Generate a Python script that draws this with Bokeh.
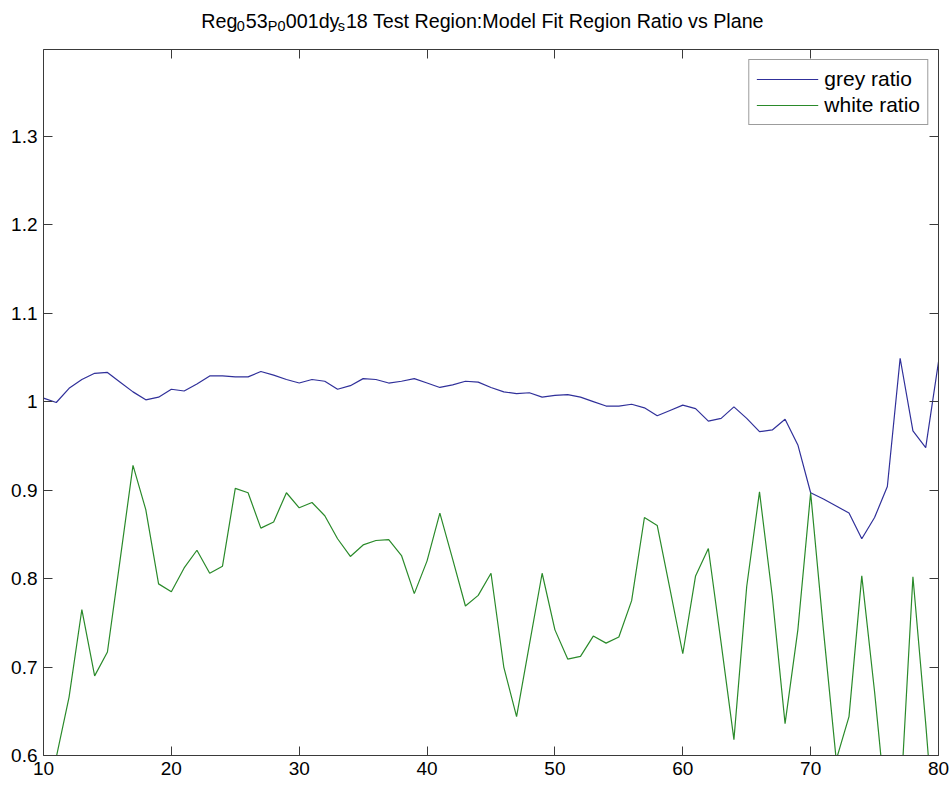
from bokeh.plotting import figure
from bokeh.layouts import column
from bokeh.models import (FixedTicker, CustomJSTickFormatter, LinearAxis,
                          Range1d, Legend, LegendItem)
from bokeh.core.properties import value
from bokeh.embed import file_html
from bokeh.resources import INLINE

# ---------------- data ----------------
plane = list(range(10, 81))
grey_ratio = [1.004, 0.999, 1.015, 1.025, 1.032, 1.033, 1.022, 1.011, 1.002, 1.005,
              1.014, 1.012, 1.020, 1.029, 1.029, 1.028, 1.028, 1.034, 1.030, 1.025,
              1.021, 1.025, 1.023, 1.014, 1.018, 1.026, 1.025, 1.021, 1.023, 1.026,
              1.021, 1.016, 1.019, 1.023, 1.022, 1.016, 1.011, 1.009, 1.010, 1.005,
              1.007, 1.008, 1.005, 1.000, 0.995, 0.995, 0.997, 0.993, 0.984, 0.990,
              0.996, 0.992, 0.978, 0.981, 0.994, 0.981, 0.966, 0.968, 0.980, 0.951,
              0.897, 0.890, 0.882, 0.874, 0.845, 0.869, 0.904, 1.049, 0.967, 0.948,
              1.045]
white_ratio = [0.550, 0.598, 0.666, 0.765, 0.690, 0.717, 0.822, 0.928, 0.878, 0.794,
               0.785, 0.812, 0.832, 0.806, 0.814, 0.902, 0.897, 0.857, 0.864, 0.897,
               0.880, 0.886, 0.871, 0.845, 0.825, 0.838, 0.843, 0.844, 0.826, 0.783,
               0.820, 0.874, 0.822, 0.769, 0.781, 0.806, 0.700, 0.644, 0.725, 0.806,
               0.742, 0.709, 0.712, 0.735, 0.727, 0.734, 0.775, 0.869, 0.860, 0.788,
               0.715, 0.803, 0.834, 0.727, 0.618, 0.791, 0.898, 0.780, 0.636, 0.742,
               0.897, 0.742, 0.595, 0.644, 0.803, 0.672, 0.525, 0.540, 0.802, 0.636,
               0.455]
x_ticks = [10, 20, 30, 40, 50, 60, 70, 80]
y_ticks = [0.6, 0.7, 0.8, 0.9, 1.0, 1.1, 1.2, 1.3]
series_labels = ["grey ratio", "white ratio"]
# title pieces: (text, is_subscript)
title_pieces = [("Reg", False), ("0", True), ("53", False), ("P0", True),
                ("001dy", False), ("s", True),
                ("18 Test Region:Model Fit Region Ratio vs Plane", False)]

# ---------------- styling ----------------
FONT = "Liberation Sans"
AX_COL = "#3a3a3a"
GREY_COL = "#30309a"
WHITE_COL = "#2a8a2a"
X0, X1, Y0, Y1 = 10, 80, 0.6, 1.398
PAGE_W, PAGE_H = 952, 787
TITLE_H = 45
FRAME_L, FRAME_R, FRAME_T, FRAME_B = 43, 938, 49, 755

# ---------------- title strip (text with subscripts) ----------------
tf = figure(width=PAGE_W, height=TITLE_H, output_backend="svg",
            toolbar_location=None, x_range=Range1d(0, PAGE_W),
            y_range=Range1d(TITLE_H, 0), min_border=0, title_location=None,
            x_axis_location=None, y_axis_location=None)
tf.grid.visible = False
tf.outline_line_color = None

W = {'R': 722, 'e': 556, 'g': 556, 'P': 667, 'd': 556, 'y': 500, 's': 500,
     ' ': 278, 'T': 611, 't': 278, 'i': 222, 'o': 556, 'n': 556, ':': 278,
     'M': 833, 'l': 222, 'F': 611, 'a': 556, 'v': 500, 'r': 333}
MAIN_SZ, SUB_SZ = 19.7, 14.5
GAP = 1.5


def text_w(s, size):
    return sum(W.get(c, 556) for c in s) / 1000.0 * size


total = sum(text_w(t, SUB_SZ if sub else MAIN_SZ) + (2 * GAP if sub else 0)
            for t, sub in title_pieces)
cursor = 455 - total / 2.0
main_x, main_t, sub_x, sub_t = [], [], [], []
for t, sub in title_pieces:
    if sub:
        cursor += GAP
        sub_x.append(cursor); sub_t.append(t)
        cursor += text_w(t, SUB_SZ) + GAP
    else:
        main_x.append(cursor); main_t.append(t)
        cursor += text_w(t, MAIN_SZ)
tf.text(x=main_x, y=[20] * len(main_x), text=main_t, text_font=value(FONT),
        text_font_size=value(f"{MAIN_SZ}px"), text_color="black",
        text_align="left", text_baseline="alphabetic")
tf.text(x=sub_x, y=[25] * len(sub_x), text=sub_t, text_font=value(FONT),
        text_font_size=value(f"{SUB_SZ}px"), text_color="black",
        text_align="left", text_baseline="alphabetic")

# ---------------- main plot ----------------
main_h = PAGE_H - TITLE_H
p = figure(width=PAGE_W, height=main_h, output_backend="svg", toolbar_location=None,
           x_range=Range1d(X0, X1), y_range=Range1d(Y0, Y1),
           min_border_left=FRAME_L, min_border_right=PAGE_W - FRAME_R,
           min_border_top=FRAME_T - TITLE_H, min_border_bottom=PAGE_H - FRAME_B,
           title_location=None,
           background_fill_color="white", border_fill_color="white")
p.outline_line_color = None
p.xgrid.visible = False
p.ygrid.visible = False


def style_axis(ax, ticks, labels=True):
    ax.ticker = FixedTicker(ticks=ticks)
    ax.major_tick_in = 9
    ax.major_tick_out = 0
    ax.minor_tick_in = 0
    ax.minor_tick_out = 0
    ax.axis_line_color = AX_COL
    ax.axis_line_width = 1
    ax.major_tick_line_color = AX_COL
    ax.major_tick_line_width = 1
    ax.major_label_text_font = FONT
    ax.major_label_text_font_size = "19px"
    ax.major_label_text_color = "black"
    ax.major_label_standoff = 6
    if not labels:
        ax.formatter = CustomJSTickFormatter(code="return '';")
        ax.major_label_standoff = 0


style_axis(p.xaxis[0], x_ticks)
style_axis(p.yaxis[0], y_ticks)
p.yaxis[0].formatter = CustomJSTickFormatter(
    code="return Number(tick.toFixed(2)).toString();")

top_ax = LinearAxis()
style_axis(top_ax, x_ticks, labels=False)
right_ax = LinearAxis()
style_axis(right_ax, y_ticks, labels=False)
p.add_layout(top_ax, "above")
p.add_layout(right_ax, "right")

r1 = p.line(plane, grey_ratio, line_color=GREY_COL, line_width=1.2)
r2 = p.line(plane, white_ratio, line_color=WHITE_COL, line_width=1.2)

legend = Legend(items=[LegendItem(label=series_labels[0], renderers=[r1]),
                       LegendItem(label=series_labels[1], renderers=[r2])],
                location="top_right", margin=10, padding=7, spacing=2,
                glyph_width=62, glyph_height=22, label_height=22,
                label_standoff=6, label_text_font=FONT,
                label_text_font_size="21px", label_text_color="black",
                border_line_color=AX_COL, border_line_width=1,
                background_fill_color="white", background_fill_alpha=1.0)
p.add_layout(legend)

layout = column(tf, p, spacing=0)
open("out.html", "w").write(file_html(layout, INLINE))
